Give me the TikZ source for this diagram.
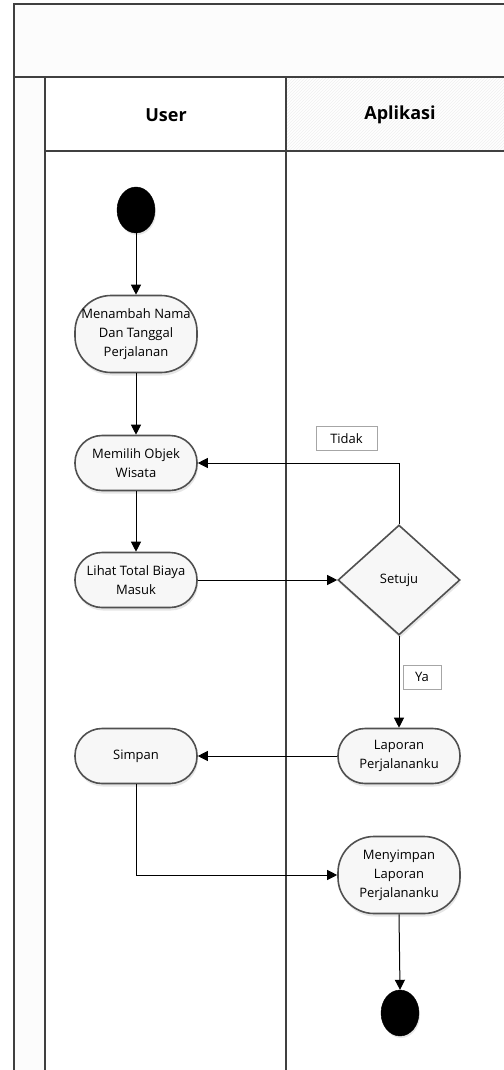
\documentclass[tikz,border=0pt]{standalone}
\usepackage{fontspec}
\setmainfont{Open Sans}
\usetikzlibrary{arrows.meta,shapes.geometric,shadows,patterns}
\definecolor{framec}{HTML}{404040}
\definecolor{nodeb}{HTML}{505050}
\definecolor{nodef}{HTML}{F7F7F7}
\definecolor{bandf}{HTML}{FCFCFC}
\begin{document}
\begin{tikzpicture}[x=1pt,y=-1pt,
  frameline/.style={draw=framec,line width=1.6pt},
  act/.style={draw=nodeb,line width=1.6pt,fill=nodef,rectangle,rounded corners=27pt,
    minimum width=122pt,minimum height=55pt,align=center,inner sep=0pt,
    font=\fontsize{13}{19}\selectfont,
    drop shadow={opacity=0.2,shadow xshift=1pt,shadow yshift=-3pt}},
  bigact/.style={act,rounded corners=36pt,minimum height=77pt},
  dec/.style={draw=nodeb,line width=1.6pt,fill=nodef,diamond,minimum width=122pt,
    minimum height=110pt,inner sep=0pt,font=\fontsize{13}{19}\selectfont,
    drop shadow={opacity=0.2,shadow xshift=1pt,shadow yshift=-3pt}},
  dot/.style={ellipse,fill=black,draw=black,minimum width=38pt,minimum height=46pt,inner sep=0pt,
    drop shadow={opacity=0.2,shadow xshift=1pt,shadow yshift=-2pt}},
  guard/.style={draw=gray!70,line width=0.8pt,fill=white,minimum width=#1,minimum height=24pt,
    inner sep=0pt,font=\fontsize{13}{15}\selectfont},
  arr/.style={draw=black,line width=1pt,-{Triangle[length=10pt,width=10pt]}},
  head/.style={font=\fontsize{18}{20}\selectfont\bfseries}]
\useasboundingbox (0,0) rectangle (503,1070);
% frame
\fill[bandf] (14,4) rectangle (520,77);
\fill[bandf] (14,77) rectangle (45,1075);
\fill[white] (45,77) rectangle (286,151);
\fill[white] (286,77) rectangle (520,151);
\fill[pattern=north east lines,pattern color=gray!12] (286,77) rectangle (520,151);
\draw[frameline] (14,1075) -- (14,4) -- (520,4);
\draw[frameline] (14,77) -- (520,77);
\draw[frameline] (45,77) -- (45,1075);
\draw[frameline] (45,151) -- (520,151);
\draw[frameline] (286,77) -- (286,1075);
\node[head] (huser) at (166,115) {User};
\node[head] (happ) at (400,115) {Aplikasi};
% nodes
\node[dot] (start) at (136,210) {};
\node[bigact] (n1) at (136,334) {Menambah Nama\\Dan Tanggal\\Perjalanan};
\node[act] (n2) at (136,463) {Memilih Objek\\Wisata};
\node[act] (n3) at (136,580) {Lihat Total Biaya\\Masuk};
\node[dec] (setuju) at (399,580) {Setuju};
\node[act] (lap) at (399,756) {Laporan\\Perjalananku};
\node[act] (simpan) at (136,756) {Simpan};
\node[bigact] (menyimpan) at (399,875) {Menyimpan\\Laporan\\Perjalananku};
\node[dot] (end) at (400,1013) {};
\node[guard=61pt] (tidak) at (346.5,438.5) {Tidak};
\node[guard=38pt] (ya) at (422,677) {Ya};
% connectors
\draw[arr] (start) -- (n1);
\draw[arr] (n1) -- (n2);
\draw[arr] (n2) -- (n3);
\draw[arr] (n3.east) -- (setuju.west);
\draw[arr] (setuju.north) |- (n2.east);
\draw[arr] (setuju.south) -- (lap.north);
\draw[arr] (lap.west) -- (simpan.east);
\draw[arr] (simpan.south) |- (menyimpan.west);
\draw[arr] (menyimpan.south) -- (end.north);
\end{tikzpicture}
\end{document}
